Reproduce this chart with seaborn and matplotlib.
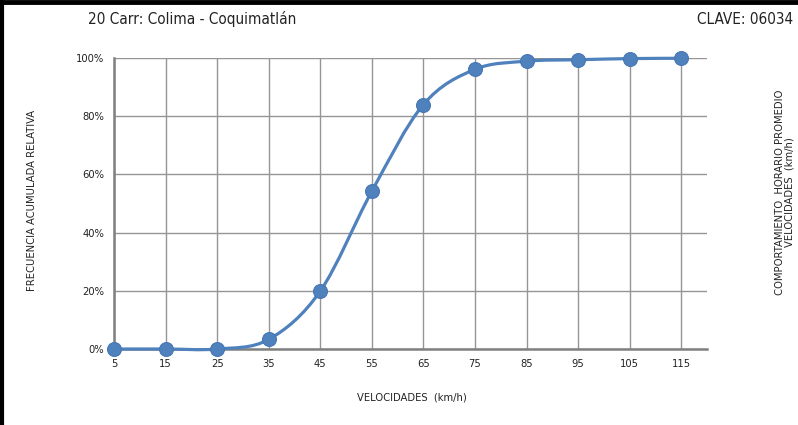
import numpy as np
import pandas as pd
import matplotlib
matplotlib.use("Agg")
import matplotlib.pyplot as plt
from matplotlib.path import Path
from matplotlib.patches import PathPatch
from matplotlib.lines import Line2D
from matplotlib.ticker import PercentFormatter
import seaborn as sns

# datos
velocidades = [5, 15, 25, 35, 45, 55, 65, 75, 85, 95, 105, 115]
frecuencia = [0.0, 0.0, 0.0, 3.3, 19.9, 54.2, 84.0, 96.1, 98.9, 99.4, 99.8, 99.9]

titulo = "20 Carr: Colima - Coquimatlán"
clave = "CLAVE: 06034"
eje_x = "VELOCIDADES  (km/h)"
eje_y = "FRECUENCIA ACUMULADA RELATIVA"
eje_der = "COMPORTAMIENTO  HORARIO PROMEDIO\nVELOCIDADES  (km/h)"

AZUL = "#4F81BD"
GRIS = "#959595"

sns.set_theme(style="white")
plt.rcParams["font.family"] = ["Liberation Sans Narrow", "DejaVu Sans Condensed", "DejaVu Sans"]
plt.rcParams["font.stretch"] = "condensed"

df = pd.DataFrame({"vel": velocidades, "frec": frecuencia})

fig = plt.figure(figsize=(7.98, 4.25), dpi=100)
ax = fig.add_axes([114 / 798, 76 / 425, 593 / 798, 291 / 425])


def curva_suave(x, y):
    # curva tipo Excel: bezier cubica con puntos de control Catmull-Rom
    pts = np.column_stack([x, y]).astype(float)
    verts = [tuple(pts[0])]
    codes = [Path.MOVETO]
    n = len(pts)
    for i in range(n - 1):
        p0 = pts[max(i - 1, 0)]
        p1 = pts[i]
        p2 = pts[i + 1]
        p3 = pts[min(i + 2, n - 1)]
        c1 = p1 + (p2 - p0) / 6.0
        c2 = p2 - (p3 - p1) / 6.0
        verts += [tuple(c1), tuple(c2), tuple(p2)]
        codes += [Path.CURVE4] * 3
    return Path(verts, codes)


ax.add_patch(PathPatch(curva_suave(df["vel"], df["frec"]), facecolor="none",
                       edgecolor=AZUL, lw=2.3, zorder=3, capstyle="round",
                       clip_on=False))
sns.scatterplot(data=df, x="vel", y="frec", ax=ax, s=100, color=AZUL,
                edgecolor="#4677b3", linewidth=0.8, zorder=4, legend=False,
                clip_on=False)

ax.set_xlim(5, 120)
ax.set_ylim(0, 100)
ax.set_xticks(velocidades)
ax.set_yticks(range(0, 101, 20))
ax.yaxis.set_major_formatter(PercentFormatter(decimals=0))
ax.grid(True, color=GRIS, lw=1.0)
ax.set_axisbelow(True)
for s in ["top", "right"]:
    ax.spines[s].set_visible(False)
for s in ["left", "bottom"]:
    ax.spines[s].set_color("#808080")
    ax.spines[s].set_linewidth(1.8)
ax.tick_params(axis="both", length=4, width=1.0, color=GRIS, labelsize=8,
               labelcolor="#222222", pad=3, direction="out")
ax.set_xlabel("")
ax.set_ylabel("")

fig.text(412 / 798, 1 - 398 / 425, eje_x, ha="center", va="center", fontsize=8, color="#222222")
fig.text(32 / 798, 1 - 200 / 425, eje_y, ha="center", va="center", rotation=90,
         fontsize=8, color="#222222")
fig.text(785 / 798, 1 - 192 / 425, eje_der, ha="center", va="center", rotation=90,
         fontsize=8, color="#222222", multialignment="center", linespacing=1.0)
fig.text(88 / 798, 1 - 19 / 425, titulo, ha="left", va="center", fontsize=11, color="#222222")
fig.text(793 / 798, 1 - 19 / 425, clave, ha="right", va="center", fontsize=11, color="#222222")

# marco negro superior e izquierdo
fig.add_artist(Line2D([0, 1], [1 - 2 / 425, 1 - 2 / 425], transform=fig.transFigure,
                      color="black", lw=3.5))
fig.add_artist(Line2D([2 / 798, 2 / 798], [0, 1], transform=fig.transFigure,
                      color="black", lw=3.0))

fig.savefig("out.png", dpi=100)
